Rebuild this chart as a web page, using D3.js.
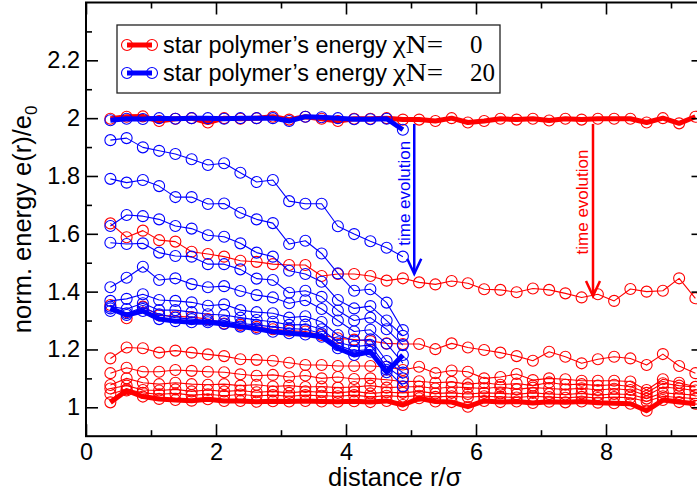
<!DOCTYPE html>
<html><head><meta charset="utf-8">
<script src="https://cdn.jsdelivr.net/npm/d3@7"></script>
<style>body{margin:0;background:#fff}svg{display:block}</style>
</head><body>
<svg id="chart" width="697" height="494"></svg>
<script>
// ---------------- data ----------------
const xRed = [0.375,0.625,0.875,1.125,1.375,1.625,1.875,2.125,2.375,2.625,2.875,3.125,3.375,3.625,3.875,4.125,4.375,4.625,4.875,5.125,5.375,5.625,5.875,6.125,6.375,6.625,6.875,7.125,7.375,7.625,7.875,8.125,8.375,8.625,8.875,9.125,9.375];
const xBlue = [0.375,0.625,0.875,1.125,1.375,1.625,1.875,2.125,2.375,2.625,2.875,3.125,3.375,3.625,3.875,4.125,4.375,4.625,4.875];

// chi N = 0 (red)
const redStart = [1.998,2.005,2.006,1.990,1.998,2.000,1.985,2.000,1.998,2.000,2.005,1.995,2.005,1.998,1.990,1.998,1.998,2.000,1.995,1.995,1.990,2.000,1.985,1.990,1.998,1.995,1.998,1.992,1.998,1.995,1.998,1.998,1.998,1.985,2.000,1.982,2.005];
const red1 = [1.636,1.588,1.611,1.578,1.573,1.538,1.530,1.521,1.507,1.503,1.495,1.492,1.492,1.454,1.461,1.461,1.454,1.438,1.446,1.432,1.425,1.437,1.429,1.408,1.406,1.398,1.411,1.406,1.394,1.380,1.391,1.368,1.409,1.400,1.403,1.446,1.377];
const red2 = [1.354,1.308,1.348,1.318,1.315,1.312,1.305,1.290,1.285,1.278,1.270,1.265,1.262,1.250,1.239,1.234,1.229,1.221,1.219,1.219,1.201,1.221,1.207,1.198,1.189,1.177,1.161,1.192,1.175,1.152,1.166,1.175,1.169,1.146,1.184,1.143,1.118];
const red3 = [1.169,1.207,1.204,1.189,1.196,1.189,1.183,1.177,1.166,1.164,1.161,1.154,1.146,1.146,1.143,1.143,1.143,1.140,1.129,1.140,1.118,1.127,1.123,1.100,1.105,1.115,1.094,1.100,1.097,1.092,1.092,1.092,1.089,1.060,1.097,1.085,1.071];
const red4 = [1.118,1.137,1.123,1.123,1.129,1.126,1.123,1.121,1.114,1.109,1.112,1.105,1.110,1.100,1.105,1.098,1.100,1.095,1.089,1.090,1.085,1.088,1.080,1.085,1.078,1.082,1.075,1.086,1.078,1.080,1.075,1.078,1.072,1.050,1.083,1.075,1.070];
const red5 = [1.077,1.100,1.085,1.080,1.085,1.080,1.078,1.080,1.075,1.078,1.072,1.075,1.070,1.072,1.068,1.070,1.075,1.068,1.070,1.072,1.065,1.070,1.068,1.065,1.070,1.062,1.068,1.065,1.062,1.066,1.060,1.064,1.060,1.040,1.070,1.065,1.058];
const red6 = [1.065,1.075,1.060,1.058,1.062,1.055,1.060,1.055,1.058,1.052,1.055,1.050,1.055,1.052,1.050,1.055,1.048,1.052,1.050,1.055,1.048,1.050,1.046,1.050,1.048,1.045,1.050,1.046,1.044,1.048,1.042,1.046,1.044,1.030,1.050,1.046,1.042];
const red7 = [1.046,1.062,1.050,1.045,1.048,1.042,1.045,1.040,1.044,1.040,1.042,1.038,1.042,1.040,1.038,1.042,1.036,1.040,1.037,1.040,1.036,1.038,1.035,1.038,1.036,1.034,1.038,1.035,1.033,1.036,1.032,1.035,1.033,1.020,1.038,1.034,1.030];
const redEnd = [1.017,1.058,1.037,1.029,1.025,1.023,1.028,1.022,1.022,1.019,1.021,1.020,1.022,1.020,1.019,1.021,1.018,1.022,1.008,1.031,1.020,1.018,1.002,1.022,1.018,1.020,1.015,1.019,1.017,1.020,1.016,1.014,1.012,0.988,1.025,1.018,1.012];

// chi N = 20 (blue)
const blueStart = [1.993,1.998,1.997,2.000,1.998,2.000,2.000,1.998,2.000,2.000,2.000,1.990,2.005,2.003,2.000,1.996,1.996,1.998,1.960];
const blue1 = [1.924,1.931,1.899,1.887,1.876,1.858,1.838,1.844,1.811,1.779,1.786,1.713,1.704,1.704,1.626,1.599,1.574,1.552,1.521];
const blue2 = [1.790,1.777,1.786,1.765,1.727,1.727,1.703,1.705,1.673,1.650,1.637,1.565,1.576,1.532,1.463,1.403,1.408,1.362,1.267];
const blue3 = [1.627,1.665,1.661,1.650,1.627,1.618,1.595,1.590,1.567,1.535,1.521,1.472,1.461,1.434,1.371,1.342,1.350,1.300,1.247];
const blue4 = [1.569,1.565,1.567,1.535,1.523,1.521,1.495,1.495,1.477,1.445,1.440,1.396,1.403,1.382,1.335,1.300,1.310,1.270,1.215];
const blue5 = [1.415,1.448,1.486,1.440,1.446,1.426,1.415,1.419,1.402,1.388,1.380,1.360,1.370,1.340,1.300,1.262,1.268,1.220,1.153];
const blue6 = [1.368,1.375,1.391,1.371,1.368,1.363,1.351,1.356,1.336,1.329,1.325,1.310,1.315,1.295,1.250,1.230,1.235,1.160,1.120];
const blue7 = [1.348,1.340,1.360,1.336,1.336,1.329,1.322,1.319,1.310,1.302,1.296,1.285,1.286,1.270,1.225,1.210,1.215,1.140,1.100];
const blue8 = [1.333,1.325,1.345,1.322,1.310,1.305,1.300,1.298,1.290,1.285,1.278,1.272,1.270,1.255,1.215,1.195,1.200,1.130,1.073];
const blueEnd = [1.342,1.319,1.333,1.305,1.298,1.294,1.294,1.288,1.279,1.272,1.261,1.256,1.252,1.244,1.204,1.181,1.192,1.121,1.181];

const xMajor = [0,2,4,6,8];
const xMinor = [1,3,5,7,9];
const yMajor = [1,1.2,1.4,1.6,1.8,2,2.2];
const yMinor = [1.1,1.3,1.5,1.7,1.9,2.1,2.3];
const legendLabels = ["star polymer\u2019s energy", "star polymer\u2019s energy"];
const legendChi = ["0", "20"];

// ---------------- drawing ----------------
const RED = "#ff0000", BLUE = "#0000ff";
const svg = d3.select("#chart");
const x = d3.scaleLinear().domain([0, 9.5]).range([86, 703.5]);
const y = d3.scaleLinear().domain([0.9, 2.4]).range([436.2, 2.5]);
const FONT = "'Liberation Sans', Arial, Helvetica, sans-serif";
const SERIF = "'Liberation Serif', 'Times New Roman', serif";

svg.append("rect").attr("width",697).attr("height",494).attr("fill","#fff");

const series = [
  {xs:xRed, ys:red1, c:RED, w:1.1},
  {xs:xRed, ys:red2, c:RED, w:1.1},
  {xs:xRed, ys:red3, c:RED, w:1.1},
  {xs:xRed, ys:red4, c:RED, w:1.1},
  {xs:xRed, ys:red5, c:RED, w:1.1},
  {xs:xRed, ys:red6, c:RED, w:1.1},
  {xs:xRed, ys:red7, c:RED, w:1.1},
  {xs:xRed, ys:redStart, c:RED, w:5},
  {xs:xRed, ys:redEnd, c:RED, w:5},
  {xs:xBlue, ys:blue1, c:BLUE, w:1.1},
  {xs:xBlue, ys:blue2, c:BLUE, w:1.1},
  {xs:xBlue, ys:blue3, c:BLUE, w:1.1},
  {xs:xBlue, ys:blue4, c:BLUE, w:1.1},
  {xs:xBlue, ys:blue5, c:BLUE, w:1.1},
  {xs:xBlue, ys:blue6, c:BLUE, w:1.1},
  {xs:xBlue, ys:blue7, c:BLUE, w:1.1},
  {xs:xBlue, ys:blue8, c:BLUE, w:1.1},
  {xs:xBlue, ys:blueStart, c:BLUE, w:5},
  {xs:xBlue, ys:blueEnd, c:BLUE, w:5}
];

const plot = svg.append("g");
const line = d3.line().x(d => x(d[0])).y(d => y(d[1]));
series.forEach(s => {
  const pts = s.xs.map((v,i) => [v, s.ys[i]]);
  const g = plot.append("g");
  g.append("path").datum(pts).attr("d", line).attr("fill","none")
    .attr("stroke", s.c).attr("stroke-width", s.w).attr("stroke-linejoin","round");
  g.selectAll("circle").data(pts).join("circle")
    .attr("cx", d => x(d[0])).attr("cy", d => y(d[1])).attr("r", 5.5)
    .attr("fill","none").attr("stroke", s.c).attr("stroke-width", 1.1);
});

// annotations: time evolution arrows
function arrow(xv, y0, y1, color) {
  const g = svg.append("g").attr("stroke", color).attr("stroke-width", 2.5).attr("fill","none");
  g.append("line").attr("x1", x(xv)).attr("x2", x(xv)).attr("y1", y(y0)).attr("y2", y(y1));
  g.append("polyline").attr("points",
    `${x(xv)-7},${y(y1)-15} ${x(xv)},${y(y1)} ${x(xv)+7},${y(y1)-15}`);
}
arrow(5.05, 1.98, 1.462, BLUE);
arrow(7.8, 1.98, 1.385, RED);
svg.append("text").attr("transform", `translate(${x(5.05)-4},${y(1.74)}) rotate(-90)`)
  .attr("text-anchor","middle").attr("font-family",FONT).attr("font-size",17)
  .attr("fill",BLUE).text("time evolution");
svg.append("text").attr("transform", `translate(${x(7.8)-5},${y(1.71)}) rotate(-90)`)
  .attr("text-anchor","middle").attr("font-family",FONT).attr("font-size",17)
  .attr("fill",RED).text("time evolution");

// axes (inward ticks on all four sides)
function styleAxis(g) {
  g.select(".domain").remove();
  g.selectAll(".tick line").attr("stroke","#000").attr("stroke-width",1.6);
  g.selectAll(".tick text").attr("font-family",FONT).attr("font-size",23.5).attr("fill","#000");
}
const fmt = d => String(+d.toFixed(1));
svg.append("g").attr("transform",`translate(0,${y(0.9)})`)
  .call(d3.axisBottom(x).tickValues(xMajor).tickSize(-12).tickPadding(7).tickFormat(fmt)).call(styleAxis)
  .selectAll(".tick text").attr("dy","0.71em");
svg.append("g").attr("transform",`translate(0,${y(0.9)})`)
  .call(d3.axisBottom(x).tickValues(xMinor).tickSize(-6).tickFormat("")).call(styleAxis);
svg.append("g").attr("transform",`translate(${x(0)},0)`)
  .call(d3.axisLeft(y).tickValues(yMajor).tickSize(-12).tickPadding(6).tickFormat(fmt)).call(styleAxis);
svg.append("g").attr("transform",`translate(${x(0)},0)`)
  .call(d3.axisLeft(y).tickValues(yMinor).tickSize(-6).tickFormat("")).call(styleAxis);
svg.append("g").attr("transform",`translate(0,${y(2.4)})`)
  .call(d3.axisTop(x).tickValues(xMajor).tickSize(-12).tickFormat("")).call(styleAxis);
svg.append("g").attr("transform",`translate(0,${y(2.4)})`)
  .call(d3.axisTop(x).tickValues(xMinor).tickSize(-6).tickFormat("")).call(styleAxis);
svg.append("g").attr("transform",`translate(${x(9.5)},0)`)
  .call(d3.axisRight(y).tickValues(yMajor).tickSize(-12).tickFormat("")).call(styleAxis);
svg.append("g").attr("transform",`translate(${x(9.5)},0)`)
  .call(d3.axisRight(y).tickValues(yMinor).tickSize(-6).tickFormat("")).call(styleAxis);

svg.append("rect").attr("x", x(0)).attr("y", y(2.4))
  .attr("width", x(9.5)-x(0)).attr("height", y(0.9)-y(2.4))
  .attr("fill","none").attr("stroke","#000").attr("stroke-width",2);

// axis titles
svg.append("text").attr("x", (x(0)+x(9.5))/2).attr("y", 486)
  .attr("text-anchor","middle").attr("font-family",FONT).attr("font-size",25.5)
  .text("distance r/\u03c3");
const yl = svg.append("text").attr("transform", `translate(31,${(y(0.9)+y(2.4))/2}) rotate(-90)`)
  .attr("text-anchor","middle").attr("font-family",FONT).attr("font-size",25.5);
yl.append("tspan").text("norm. energy e(r)/e");
yl.append("tspan").attr("font-size",17).attr("dy",6).text("0");

// legend
const lg = svg.append("g");
lg.append("rect").attr("x",117).attr("y",25).attr("width",383).attr("height",68)
  .attr("fill","#fff").attr("stroke","#222").attr("stroke-width",1.3);
[RED, BLUE].forEach((c,i) => {
  const ly = 45 + i*28;
  lg.append("line").attr("x1",127).attr("x2",152).attr("y1",ly).attr("y2",ly)
    .attr("stroke",c).attr("stroke-width",5);
  [127,152].forEach(cx => lg.append("circle").attr("cx",cx).attr("cy",ly).attr("r",5.5)
    .attr("fill","none").attr("stroke",c).attr("stroke-width",1.1));
  lg.append("text").attr("x",163).attr("y",ly+7.5).attr("font-family",FONT).attr("font-size",23.5)
    .attr("textLength",224).attr("lengthAdjust","spacingAndGlyphs").text(legendLabels[i]);
  lg.append("text").attr("x",393).attr("y",ly+7.5).attr("font-family",SERIF).attr("font-size",25)
    .attr("textLength",50).attr("lengthAdjust","spacingAndGlyphs").text("\u03c7N=");
  lg.append("text").attr("x",470).attr("y",ly+7.5)
    .attr("font-family",SERIF).attr("font-size",25)
    .text(legendChi[i]);
});
</script>
</body></html>
